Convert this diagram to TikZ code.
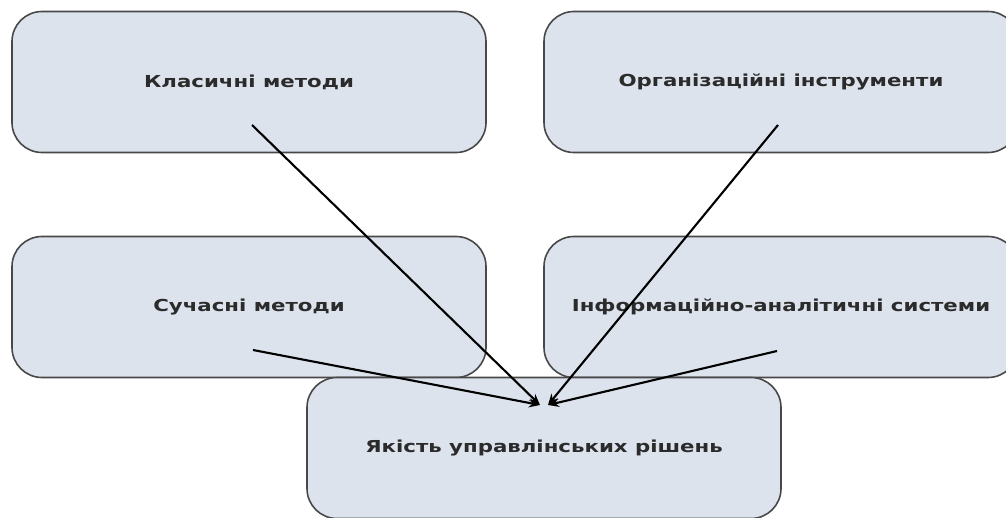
\documentclass[tikz,border=0pt]{standalone}
\usepackage{fontspec}
\setmainfont{DejaVu Sans}
\newfontfamily\boxfont[FakeStretch=1.29]{DejaVu Sans}
\usetikzlibrary{arrows.meta}
\definecolor{boxfill}{HTML}{DCE3ED}
\definecolor{boxline}{HTML}{484848}
\definecolor{boxtext}{HTML}{2B2B2B}
\tikzset{
  block/.style={draw=boxline, line width=1.6pt, fill=boxfill, rounded corners=30pt,
    minimum width=474pt, minimum height=141pt, inner sep=0pt,
    text=boxtext, font=\boxfont\fontsize{16.5}{19}\selectfont\bfseries},
  link/.style={line width=2.1pt, -{Stealth[length=11pt,width=9pt]}}
}
\begin{document}
\begin{tikzpicture}[x=1pt,y=-1pt]
      \clip (0,0) rectangle (1006,518);
      \useasboundingbox (0,0) rectangle (1006,518);
      \node[block] (klas) at (249,82) {Класичні методи};
      \node[block] (org) at (781,82) {Організаційні інструменти};
      \node[block] (suchas) at (249,307) {Сучасні методи};
      \node[block] (info) at (781,307) {Інформаційно-аналітичні системи};
      \node[block] (yakist) at (544,448) {Якість управлінських рішень};
      % start and end points of the arrows
      \coordinate (klas-out) at (252,125);
      \coordinate (org-out) at (778,125);
      \coordinate (suchas-out) at (253,350);
      \coordinate (info-out) at (777,351);
      \coordinate (in-l) at (540,405);
      \coordinate (in-r) at (548,405);
      \begin{scope}[link]
        \draw (klas-out) to (in-l);
        \draw (org-out) to (in-r);
        \draw (suchas-out) to (in-l);
        \draw (info-out) to (in-r);
      \end{scope}
    \end{tikzpicture}
\end{document}
